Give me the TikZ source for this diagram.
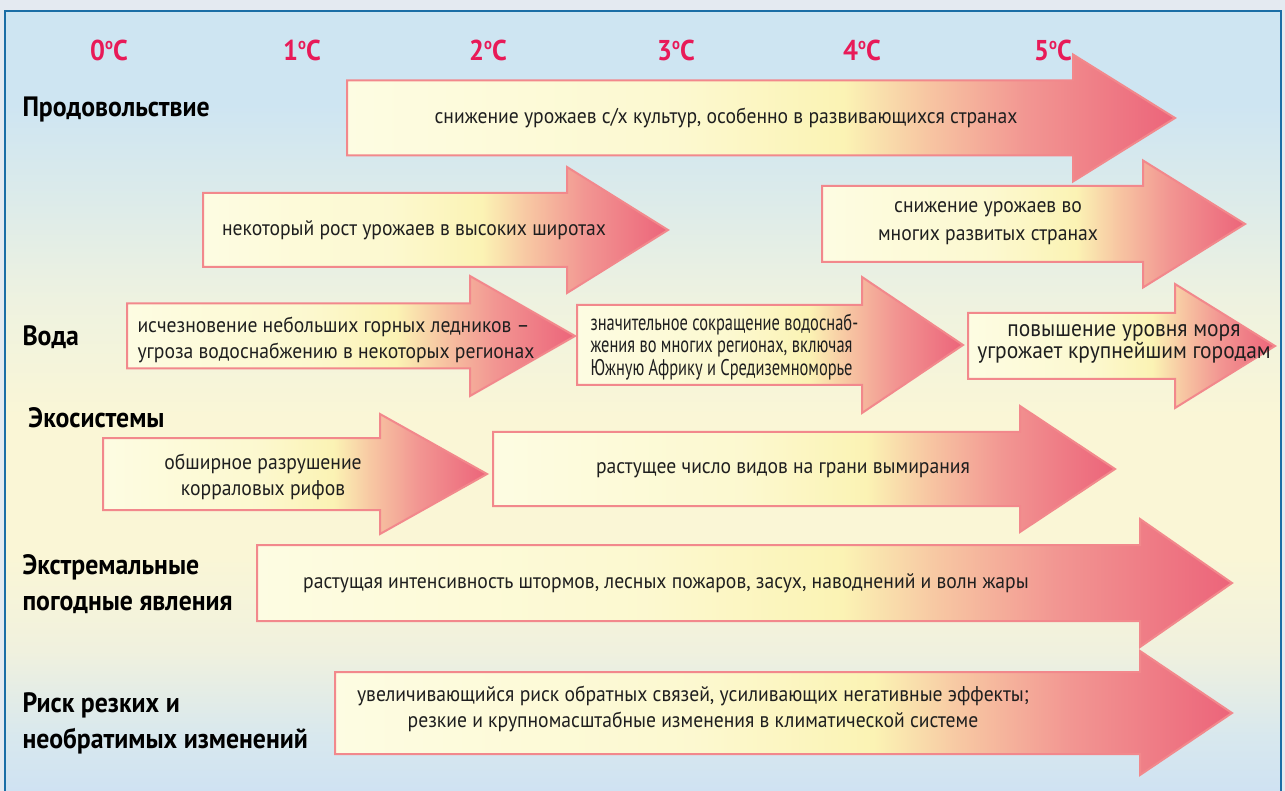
\documentclass[tikz,border=0pt]{standalone}
\usepackage{fontspec}
\setmainfont[FakeStretch=0.92]{PT Sans}
\newfontfamily\narrowfont[FakeStretch=0.725]{PT Sans}
\usetikzlibrary{positioning}

\definecolor{degred}{RGB}{232,26,88}
\definecolor{arrowline}{RGB}{242,136,140}
\definecolor{framecol}{RGB}{27,110,166}
\definecolor{pageback}{RGB}{228,234,241}
\definecolor{warmA}{RGB}{253,252,226}
\definecolor{warmB}{RGB}{251,243,180}
\definecolor{warmC}{RGB}{247,198,162}
\definecolor{warmD}{RGB}{242,150,146}
\definecolor{warmE}{RGB}{236,100,122}
\definecolor{skyA}{RGB}{207,226,242}
\definecolor{skyB}{RGB}{216,232,238}
\definecolor{skyC}{RGB}{240,241,222}
\definecolor{skyD}{RGB}{250,246,214}
\definecolor{skyE}{RGB}{238,242,224}
\definecolor{skyF}{RGB}{220,235,234}
\definecolor{skyG}{RGB}{206,229,242}

\pgfdeclarehorizontalshading{warm}{100bp}{color(0bp)=(warmA); color(25bp)=(warmA); color(45bp)=(warmA!60!warmB); color(55bp)=(warmB); color(60bp)=(warmC); color(66bp)=(warmD); color(75bp)=(warmE); color(100bp)=(warmE)}
\pgfdeclareverticalshading{sky}{100bp}{color(0bp)=(skyA); color(25bp)=(skyA); color(28.5bp)=(skyB); color(34bp)=(skyC); color(40bp)=(skyD); color(49bp)=(skyD); color(56.5bp)=(skyE); color(63bp)=(skyF); color(69bp)=(skyG); color(75bp)=(skyG); color(100bp)=(skyG)}

\tikzset{every picture/.style={line width=0.75pt}}
\tikzset{
  deg/.style={font=\bfseries\fontsize{21.5}{24}\selectfont, text=degred, inner sep=0pt},
  rowlabel/.style={font=\bfseries\fontsize{21}{27}\selectfont, anchor=west, align=left, inner sep=0pt},
  arrowtext/.style={font=\fontsize{16}{20}\selectfont, align=center, inner sep=0pt, text=black!88}
}

% #1 left end, #2 neck, #3 tip, #4 centre line, #5 half body, #6 half head
\newcommand{\heatarrow}[6]{%
  \shadedraw[shading=warm, draw=arrowline, line width=1.5pt]
    (#1,#4-#5) -- (#2,#4-#5) -- (#2,#4-#6) -- (#3,#4) -- (#2,#4+#6) -- (#2,#4+#5) -- (#1,#4+#5) -- cycle;}

\begin{document}
\begin{tikzpicture}[x=0.75pt,y=0.75pt,yscale=-1,xscale=1]
  \useasboundingbox (0,0) rectangle (1285,791);

  %Shape: page and frame
  \fill[pageback] (0,0) rectangle (1285,791);
  \shade[shading=sky] (5,11) rectangle (1281,791);
  \draw[framecol, line width=2.2pt] (5,791) -- (5,11) -- (1281,11) -- (1281,791);

  % temperature scale
  \foreach \t/\x in {0/109,1/302,2/488,3/676,4/862,5/1053}
    \node[deg] (deg\t) at (\x,50) {\t\raisebox{8pt}{\fontsize{12}{12}\selectfont o}C};

  %Shape: arrows
  \heatarrow{347}{1073}{1175}{118}{37.5}{63.5}
  \heatarrow{203}{567}{668}{230}{37}{63}
  \heatarrow{822}{1143}{1245}{224}{38}{63.5}
  \heatarrow{127}{470}{575}{336}{32.5}{60}
  \heatarrow{577}{862}{963}{345}{40}{68}
  \heatarrow{968}{1175}{1275}{346}{33}{62}
  \heatarrow{103}{380}{487}{474}{36}{60}
  \heatarrow{493}{1020}{1115}{469}{37}{63}
  \heatarrow{257}{1140}{1232}{583}{38}{64}
  \heatarrow{335}{1140}{1232}{713}{41}{62}

  % Text Node
  \node[rowlabel] (lfood) at (22,110) {Продовольствие};
  \node[rowlabel] (lwater) at (22,337) {Вода};
  \node[rowlabel] (leco) at (28,418) {Экосистемы};
  \node[rowlabel] (lweather) at (22,584) {Экстремальные\\погодные явления};
  \node[rowlabel] (lrisk) at (22,723) {Риск резких и\\необратимых изменений};

  % Text Node
  \node[arrowtext] (food1) at (726,118) {снижение урожаев с/х культур, особенно в развивающихся странах};
  \node[arrowtext] (food2) at (414,230) {некоторый рост урожаев в высоких широтах};
  \node[arrowtext, font=\fontsize{16}{21}\selectfont] (food3) at (988,223) {снижение урожаев во\\многих развитых странах};
  \node[arrowtext, anchor=west, align=left] (water1) at (137,340) {исчезновение небольших горных ледников –\\угроза водоснабжению в некоторых регионах};
  \node[arrowtext, anchor=west, align=left, font=\narrowfont\fontsize{17}{17}\selectfont] (water2) at (590,347) {значительное сокращение водоснаб-\\жения во многих регионах, включая\\Южную Африку и Средиземноморье};
  \node[arrowtext, font=\fontsize{17.5}{16.5}\selectfont] (water3) at (1124,344) {повышение уровня моря\\угрожает крупнейшим городам};
  \node[arrowtext] (eco1) at (263,477) {обширное разрушение\\корраловых рифов};
  \node[arrowtext] (eco2) at (783,470) {растущее число видов на грани вымирания};
  \node[arrowtext] (weather) at (666,583) {растущая интенсивность штормов, лесных пожаров, засух, наводнений и волн жары};
  \node[arrowtext, font=\fontsize{16}{19}\selectfont] (risk) at (693,709) {увеличивающийся риск обратных связей, усиливающих негативные эффекты;\\резкие и крупномасштабные изменения в климатической системе};
\end{tikzpicture}
\end{document}
